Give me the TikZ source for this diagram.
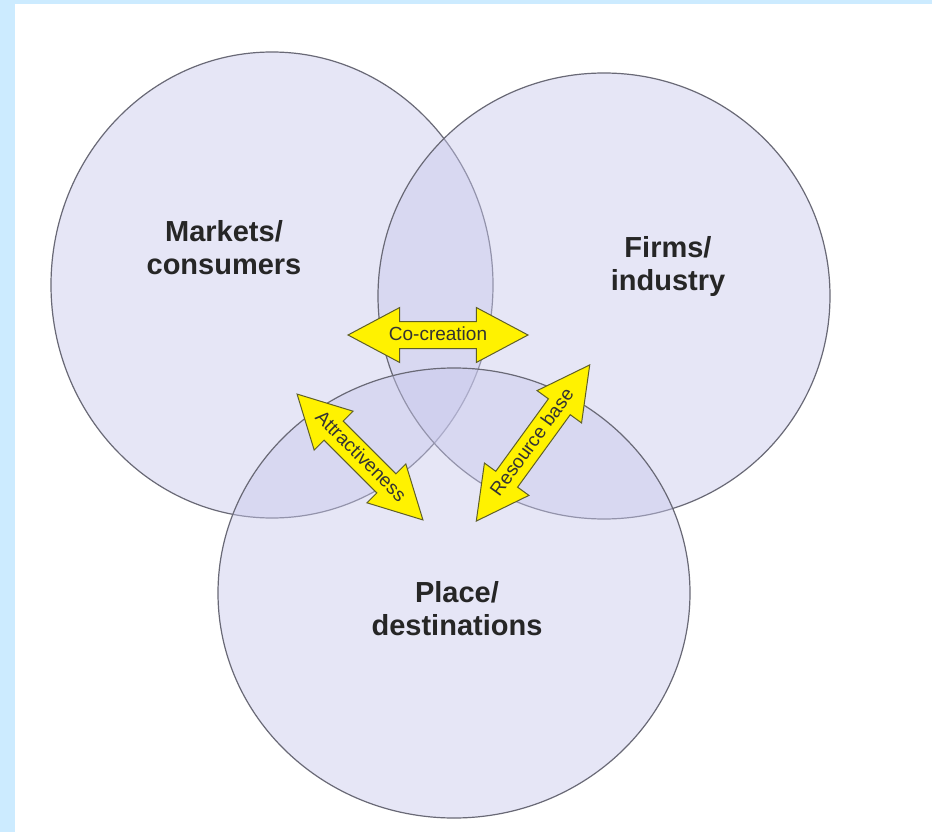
\documentclass[tikz,border=0pt]{standalone}
\usepackage{fontspec}
\setmainfont{Liberation Sans}
\usetikzlibrary{shapes.geometric,shapes.arrows}

\definecolor{framebg}{RGB}{204,235,255}
\definecolor{ringfill}{RGB}{200,200,236}
\definecolor{ringline}{RGB}{105,105,118}
\definecolor{arrowline}{RGB}{95,95,40}

\tikzset{
  ring/.style={ellipse, draw=ringline, line width=1.2pt, fill=ringfill,
    fill opacity=0.45, inner sep=0pt, outer sep=0pt},
  setname/.style={align=center, font=\fontsize{29}{33}\selectfont\bfseries,
    text=black!85},
  twoway/.style={double arrow, draw=arrowline, line width=1pt, fill=yellow,
    double arrow head extend=14pt, double arrow tip angle=56,
    double arrow head indent=0pt, minimum width=54pt, inner xsep=0pt,
    inner ysep=5pt, text height=13pt, text depth=3pt,
    font=\fontsize{19}{19}\selectfont, text=black!80}
}

\begin{document}
\begin{tikzpicture}[x=1pt, y=-1pt]
  \useasboundingbox (0,0) rectangle (932,832);
  % page and frame
  \fill[white] (0,0) rectangle (932,832);
  \fill[framebg] (0,0) rectangle (15,832);
  \fill[framebg] (0,0) rectangle (932,4);
  % the three sets
  \foreach \name/\x/\y/\rx/\ry in {markets/272/285/221/233,
      firms/604/296/226/223, place/454/593/236/225}
    \node[ring, minimum width=2*\rx, minimum height=2*\ry] (\name) at (\x,\y) {};
  % set names
  \node[setname] (marketstext) at (224,248) {Markets/\\consumers};
  \node[setname] (firmstext) at (668,267) {Firms/\\industry};
  \node[setname] (placetext) at (457,609) {Place/\\destinations};
  % links between the sets
  \node[twoway, minimum height=180pt] (cocreation) at (438,335) {Co-creation};
  \node[twoway, minimum height=178pt, rotate=-45] (attract) at (360,457) {Attractiveness};
  \node[twoway, minimum height=193pt, rotate=54] (resource) at (533,443) {Resource base};
\end{tikzpicture}
\end{document}
